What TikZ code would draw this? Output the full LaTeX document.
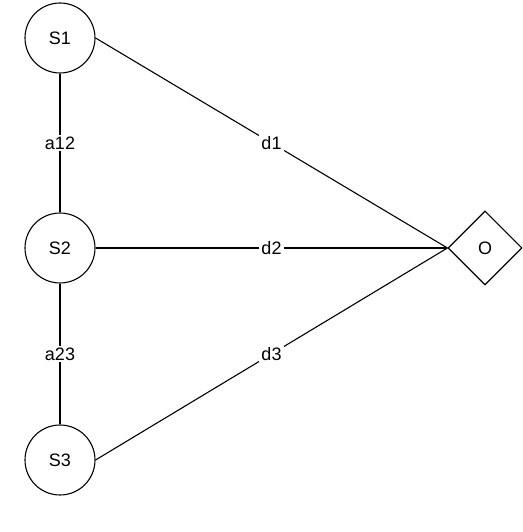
\documentclass[tikz,border=0pt]{standalone}
\usepackage{fontspec}
\setmainfont{Liberation Sans}
\usetikzlibrary{shapes.geometric,calc}
\begin{document}
\begin{tikzpicture}[x=1pt,y=1pt,
  every node/.style={font=\fontsize{18}{20}\selectfont},
  circ/.style={circle,draw,line width=1.1pt,minimum size=70pt,inner sep=0pt},
  diam/.style={diamond,draw,line width=1.1pt,minimum width=74pt,minimum height=74pt,inner sep=0pt},
  conn/.style={line width=1.1pt},
  lbl/.style={fill=white,inner sep=2pt}]
\useasboundingbox (0,0) rectangle (522,532);
\node[circ] (s1) at (60,494) {S1};
\node[circ] (s2) at (60,284) {S2};
\node[circ] (s3) at (60,72) {S3};
\node[diam] (o) at (485,284) {O};
\draw[conn] (s1.south) -- (s2.north);
\draw[conn] (s2.south) -- (s3.north);
\draw[conn] (s1.east) -- (o.west);
\draw[conn] (s2.east) -- (o.west);
\draw[conn] (s3.east) -- (o.west);
\node[lbl] (la12) at ($(s1.south)!0.5!(s2.north)$) {a12};
\node[lbl] (la23) at ($(s2.south)!0.5!(s3.north)$) {a23};
\node[lbl] (ld1) at ($(s1.east)!0.5!(o.west)$) {d1};
\node[lbl] (ld2) at ($(s2.east)!0.5!(o.west)$) {d2};
\node[lbl] (ld3) at ($(s3.east)!0.5!(o.west)$) {d3};
\end{tikzpicture}
\end{document}
